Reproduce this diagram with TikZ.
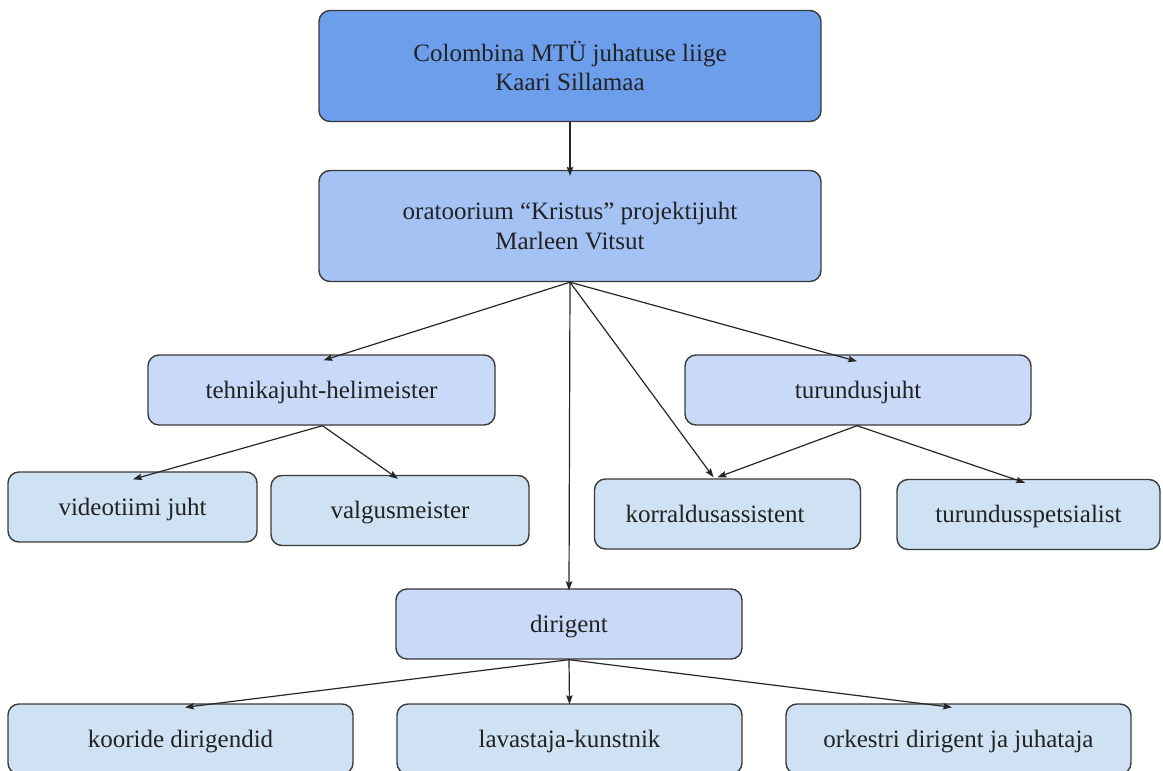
\documentclass[tikz,border=0pt]{standalone}
\usepackage{fontspec}
\setmainfont{Liberation Serif}
\newfontfamily\serifface{Liberation Serif}
\usetikzlibrary{arrows.meta}
\definecolor{lvlone}{HTML}{6D9EEB}
\definecolor{lvltwo}{HTML}{A4C2F4}
\definecolor{lvlthree}{HTML}{C9DAF8}
\definecolor{lvlleaf}{HTML}{CFE2F3}
\definecolor{edgegrey}{HTML}{3A3A3A}
\definecolor{txt}{HTML}{222222}
\tikzset{
  box/.style={draw=edgegrey, line width=1.4pt, rounded corners=11pt, inner sep=0pt,
    text=txt, align=center, font=\serifface\fontsize{25}{29.5}\selectfont},
  bigbox/.style={box, minimum width=502pt, minimum height=111pt},
  onel/.style={box, minimum height=70pt, text height=19pt, text depth=3pt},
  midbox/.style={onel, fill=lvlthree},
  leafbox/.style={onel, fill=lvlleaf},
  conn/.style={draw=black!85, line width=1.2pt,
    -{Stealth[length=9pt,width=6.5pt,inset=1.5pt]}},
}
\begin{document}
\begin{tikzpicture}[x={(1pt,0)}, y={(0,-1pt)}]
\useasboundingbox (0,0) rectangle (1163,771);
% level 1 and 2
\node[bigbox, fill=lvlone] (top) at (570,66) {Colombina MTÜ juhatuse liige\\Kaari Sillamaa};
\node[bigbox, fill=lvltwo] (proj) at (570,226) {oratoorium “Kristus” projektijuht\\Marleen Vitsut};
% level 3
\node[midbox, minimum width=347pt] (tehn) at (321.5,390) {tehnikajuht-helimeister};
\node[midbox, minimum width=346pt] (turj) at (858,390) {turundusjuht};
\node[midbox, minimum width=346pt] (dir) at (569,624) {dirigent};
% leaves
\node[leafbox, minimum width=249pt] (video) at (132.5,507) {videotiimi juht};
\node[leafbox, minimum width=258pt] (valg) at (400,510.5) {valgusmeister};
\node[leafbox, text width=204pt, align=left, inner xsep=31pt, minimum width=265pt] (korr) at (727.5,514) {korraldusassistent};
\node[leafbox, minimum width=263pt] (tspec) at (1028.5,514.5) {turundusspetsialist};
\node[leafbox, minimum width=345pt] (koor) at (180.5,739) {kooride dirigendid};
\node[leafbox, minimum width=345pt] (lav) at (569.5,739) {lavastaja-kunstnik};
\node[leafbox, minimum width=345pt] (ork) at (958.5,739) {orkestri dirigent ja juhataja};
% connectors
\draw[conn] (top.south) -- ([yshift=-6pt]proj.north);
\draw[conn] (proj.south) -- ([xshift=2pt,yshift=-6pt]tehn.north);
\draw[conn] (proj.south) -- ([xshift=-1pt,yshift=-7pt]turj.north);
\draw[conn] (proj.south) -- ([xshift=-14pt,yshift=1pt]korr.north);
\draw[conn] (proj.south) -- ([yshift=-2pt]dir.north);
\draw[conn] ([xshift=1pt]tehn.south) -- ([xshift=0.5pt,yshift=-8pt]video.north);
\draw[conn] ([xshift=1pt]tehn.south) -- ([xshift=-2pt,yshift=-4pt]valg.north);
\draw[conn] ([xshift=-1pt]turj.south) -- ([xshift=-10pt,yshift=1pt]korr.north);
\draw[conn] ([xshift=-1pt]turj.south) -- ([xshift=-3.5pt,yshift=-4pt]tspec.north);
\draw[conn] (dir.south) -- ([xshift=4.5pt,yshift=-4pt]koor.north);
\draw[conn] (dir.south) -- ([yshift=-1pt]lav.north);
\draw[conn] (dir.south) -- ([xshift=-6.5pt,yshift=-4pt]ork.north);
\end{tikzpicture}
\end{document}
